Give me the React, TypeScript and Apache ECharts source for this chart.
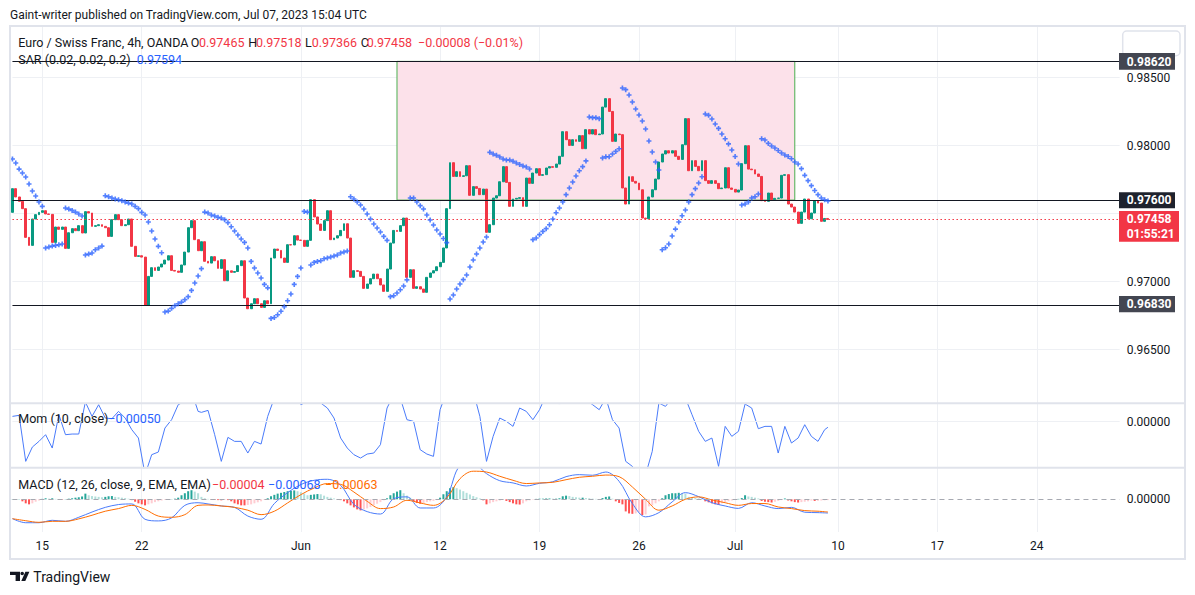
import React, { useEffect, useRef } from "react";
import * as echarts from "echarts";

// ---------- DATA ----------
const FIRST_OPEN = 0.9751;
// 4h closes, EUR/CHF, May 11 – Jul 7 2023 (each candle opens at the previous close)
const closes = [
  0.97684, 0.97623, 0.97591, 0.97537, 0.97326, 0.97267, 0.97461, 0.97493, 0.9751, 0.97522,
  0.97498, 0.97495, 0.97289, 0.97402, 0.97385, 0.97402, 0.97245, 0.9736, 0.9739, 0.97375,
  0.97412, 0.97358, 0.97515, 0.97505, 0.97407, 0.97412, 0.97419, 0.97407, 0.97397, 0.97333,
  0.97456, 0.97493, 0.97456, 0.97412, 0.97419, 0.97461, 0.9726, 0.97186, 0.97191, 0.97181,
  0.96826, 0.97039, 0.97103, 0.97083, 0.97108, 0.9713, 0.97159, 0.97191, 0.97083, 0.97078,
  0.97069, 0.97123, 0.97218, 0.97397, 0.97449, 0.97309, 0.97228, 0.97294, 0.9715, 0.97137,
  0.97184, 0.97154, 0.97098, 0.97162, 0.97007, 0.9708, 0.97069, 0.97075, 0.97118, 0.97154,
  0.9688, 0.96801, 0.96838, 0.96875, 0.96838, 0.96811, 0.9686, 0.96838, 0.97174, 0.9724,
  0.9723, 0.97174, 0.97142, 0.97272, 0.9727, 0.97338, 0.97306, 0.97304, 0.9726, 0.97304,
  0.97603, 0.97476, 0.97424, 0.97377, 0.97449, 0.97522, 0.97309, 0.97321, 0.97338, 0.97377,
  0.97426, 0.97321, 0.97032, 0.97081, 0.97076, 0.97039, 0.96951, 0.96983, 0.97022, 0.97056,
  0.97022, 0.96976, 0.96929, 0.97093, 0.97284, 0.97377, 0.9737, 0.97412, 0.97468, 0.97032,
  0.97088, 0.96951, 0.96963, 0.96946, 0.96922, 0.97032, 0.97064, 0.97081, 0.9711, 0.97142,
  0.97248, 0.97537, 0.97875, 0.97774, 0.97809, 0.97774, 0.97779, 0.97853, 0.97635, 0.97699,
  0.97686, 0.9764, 0.97681, 0.97363, 0.97419, 0.97615, 0.97632, 0.97735, 0.97846, 0.9773,
  0.97554, 0.97608, 0.97613, 0.97618, 0.97554, 0.97762, 0.97723, 0.97799, 0.97831, 0.97782,
  0.97787, 0.97836, 0.97846, 0.97841, 0.97865, 0.97922, 0.98103, 0.98044, 0.98002, 0.98044,
  0.98032, 0.98074, 0.97978, 0.98118, 0.98086, 0.98118, 0.98081, 0.98086, 0.98284, 0.98346,
  0.98252, 0.98032, 0.98086, 0.98081, 0.97689, 0.97571, 0.97772, 0.97738, 0.97725, 0.97676,
  0.97468, 0.97463, 0.97623, 0.97676, 0.97755, 0.9788, 0.97939, 0.97963, 0.97946, 0.97963,
  0.97922, 0.97899, 0.98007, 0.98199, 0.97816, 0.9789, 0.97848, 0.97816, 0.9789, 0.97743,
  0.97723, 0.97743, 0.97723, 0.97684, 0.97689, 0.97838, 0.97689, 0.97679, 0.97659, 0.97674,
  0.97868, 0.98, 0.97828, 0.97823, 0.97792, 0.97774, 0.97596, 0.97591, 0.97652, 0.97603,
  0.97613, 0.97615, 0.97782, 0.97787, 0.97571, 0.97549, 0.97512, 0.97429, 0.97512, 0.97608,
  0.97463, 0.97505, 0.97596, 0.97578, 0.97444, 0.97465, 0.97458,
];

// Parabolic SAR (0.02, 0.02, 0.2), one dot per candle
const sar = [
  0.97902, 0.97873, 0.97828, 0.97799, 0.9777, 0.97718, 0.97667, 0.9763, 0.97586, 0.97554,
  0.97248, 0.97255, 0.97262, 0.97267, 0.97272, 0.97277,
  0.97542, 0.97534, 0.97524, 0.97512, 0.97498, 0.97483,
  0.97196, 0.97203, 0.97211, 0.97235, 0.97248, 0.97262,
  0.97632, 0.97625, 0.97615, 0.97608, 0.97603, 0.97596, 0.97586, 0.97578, 0.97571, 0.97554,
  0.97537, 0.9751, 0.9749, 0.97439, 0.97373, 0.97314, 0.9726, 0.97213,
  0.96777, 0.96784, 0.96804, 0.96824, 0.96838, 0.9685, 0.96868, 0.9689, 0.96936, 0.9699, 0.97042, 0.97096,
  0.97512, 0.97505, 0.9749, 0.97483, 0.97473, 0.97468, 0.97456, 0.97434, 0.97404, 0.97373,
  0.97343, 0.97314, 0.97289, 0.97248, 0.97149, 0.97101, 0.97064, 0.97027, 0.9698, 0.96955,
  0.9673, 0.96737, 0.96757, 0.96783, 0.96816, 0.9686, 0.9691, 0.9698, 0.97039, 0.97101,
  0.97517, 0.97512,
  0.97123, 0.97142, 0.97149, 0.97154, 0.97169, 0.97174, 0.97182, 0.97189, 0.97196, 0.97211, 0.97218, 0.97226,
  0.97625, 0.97608, 0.97586, 0.97564, 0.97535, 0.97498, 0.97461, 0.97424, 0.97395, 0.97365, 0.97333, 0.97304,
  0.9689, 0.96897, 0.96917, 0.96941, 0.96968, 0.97013,
  0.97615, 0.97615, 0.97586, 0.97559, 0.97535, 0.9749, 0.97454, 0.97417, 0.9738, 0.97351, 0.97318, 0.97287,
  0.96873, 0.96902, 0.96946, 0.96983, 0.97015, 0.97049, 0.97108, 0.9716, 0.97204, 0.97248, 0.97292, 0.97329,
  0.97951, 0.97939, 0.97929, 0.97917, 0.97902, 0.97895, 0.97895, 0.97885, 0.97873, 0.97862, 0.97851, 0.97843, 0.97829,
  0.97309, 0.97321,
  0.97346, 0.9737, 0.9739, 0.97419, 0.97461, 0.97507, 0.97542, 0.97586, 0.9764, 0.97689, 0.97733, 0.97777, 0.97816, 0.97846, 0.97888,
  0.98211, 0.98206, 0.98206, 0.98199,
  0.9791, 0.97919, 0.97919, 0.97939, 0.97958, 0.97978,
  0.98424, 0.98412, 0.98373, 0.98321, 0.9827, 0.98226, 0.98182, 0.98123, 0.98035, 0.97954, 0.9788, 0.97821,
  0.97235, 0.9725, 0.97277, 0.97336, 0.97387, 0.97439, 0.97485, 0.97527, 0.97586, 0.9764, 0.97684, 0.97726, 0.97772,
  0.98233, 0.98223, 0.98196, 0.9816, 0.98127, 0.98086, 0.98051, 0.98013, 0.97968, 0.97921, 0.97865,
  0.97564, 0.97571, 0.97586, 0.97615, 0.97625, 0.97645,
  0.98051, 0.98042, 0.98017, 0.97998, 0.97983, 0.97965, 0.97946, 0.97932, 0.97921, 0.97904, 0.9788,
  0.97865, 0.97831, 0.97782, 0.97743, 0.97706, 0.97671, 0.9764, 0.97615, 0.97603, 0.97594,
];

// Momentum (10, close), read every other candle: candle index and value
const momIdx = [
  0, 2, 4, 6, 8, 10, 12, 14, 16, 18, 20, 22, 24, 26, 28, 30, 32, 34, 36, 38, 40, 42, 44, 46, 48, 50, 52, 54, 56,
  57, 59, 61, 63, 65, 67, 69, 71, 73, 75, 77, 79, 81, 83, 85, 87, 89, 91, 93, 95, 97, 99, 101, 103, 105, 107,
  109, 111, 113, 115, 117, 119, 121, 123, 125, 127, 129, 131, 133, 135, 137, 139, 141, 143, 145, 147, 149, 151,
  153, 155, 157, 159, 161, 163, 165, 167, 169, 171, 173, 175, 177, 179, 181, 183, 185, 187, 189, 191, 193, 195,
  197, 199, 201, 203, 205, 207, 209, 211, 213, 215, 217, 219, 221, 223, 225, 227, 229, 231, 233, 235, 237, 239,
  241, 243, 245, 246,
];
const momVal = [
  0.00048, 0.00057, -0.00357, -0.00228, -0.00177, -0.00117, -0.00237, 0.00063, -0.00117, -0.00111,
  -0.00111, 0.00177, 0.00048, 0.00153, 0.00033, 0.00027, 0.00093, 0.00033, -0.00072, -0.00147,
  -0.00477, -0.00297, -0.00273, -0.00057, 0.00018, 0.00153, 0.00183, 0.00273, 0.00093,
  0.00084, 0.00102, -0.00117, -0.00357, -0.00141, -0.00177, -0.00177, -0.00282, -0.00177, -0.00201,
  0.00048, 0.00213, 0.00333, 0.00363, 0.00303, 0.00153, 0.00183, 0.00213, 0.00168, 0.00123,
  0.00033, -0.00147, -0.00237, -0.00297, -0.00327, -0.00291, -0.00282, -0.00207, 0.00123, 0.00243,
  0.00213, 0.00018, 0.00003, -0.00252, -0.00291, -0.00312, 0.00108, 0.00273, 0.00363, 0.00363,
  0.00333, 0.00273, 0.00048, -0.00357, -0.00132, 0.00033, 0.00003, -0.00042, 0.00123, 0.00093,
  0.00018, 0.00108, 0.00243, 0.00228, 0.00159, 0.00228, 0.00243, 0.00213, 0.00198, 0.00153,
  0.00108, 0.00213, 0.00018, -0.00057, -0.00357, -0.00402, -0.00477, -0.00477, -0.00267, 0.00168,
  0.00138, 0.00213, 0.00228, 0.00213, 0.00063, -0.00087, -0.00177, -0.00147, -0.00402, -0.00042,
  -0.00132, -0.00087, 0.00159, 0.00123, -0.00063, -0.00042, -0.00042, -0.00282, -0.00042, -0.00192,
  -0.00147, -0.00027, -0.00132, -0.00177, -0.00072,
  -0.0005,
];

// MACD (12, 26, 9), lines read every fourth candle
const macdIdx = [
  0, 4, 8, 12, 16, 20, 24, 28, 32, 36, 40, 44, 48, 52, 56,
  59, 63, 67, 71, 75, 79, 83, 87, 91, 95, 99, 103, 107, 111, 115, 119, 123, 127, 131, 135, 139,
  143, 147, 151, 155, 159, 163, 167, 171, 175, 179, 183, 187, 191, 195, 199, 203, 207, 211, 215,
  219, 223, 227, 231, 235, 239, 243, 246,
];
const macdVal = [
  -0.00096, -0.00116, -0.00116, -0.00104, -0.00109, -0.00089, -0.00063, -0.0004, -0.00026, -0.00023,
  -0.00099, -0.00107, -0.00092, -0.0003, -0.00017,
  -0.00023, -0.00033, -0.0004, -0.00083, -0.00099, -0.00021, 0.00033, 0.00073, 0.00094, 0.00099,
  0.00069, -0.00025, -0.00061, -0.00073, 0.00003, 0.00012, -0.00043, -0.00043, 0.00012, 0.00165,
  0.00177, 0.00127, 0.00092, 0.00081, 0.00066, 0.00079, 0.00087, 0.00112, 0.00122, 0.00119,
  0.00135, 0.00089, -0.00021, -0.00087, -0.00066, -0.00013, 0.00033, 0.00013, -0.00017, -0.00033,
  -0.00045, -0.00017, -0.00033, -0.00046, -0.0004, -0.00064, -0.00066,
  -0.00068,
];
const signalVal = [
  -0.00096, -0.00106, -0.00114, -0.00109, -0.00109, -0.00097, -0.00079, -0.00059, -0.00046, -0.0003,
  -0.0005, -0.00083, -0.00089, -0.00076, -0.0003,
  -0.00028, -0.00033, -0.0004, -0.00054, -0.00076, -0.00059, -0.00018, 0.00023, 0.00056, 0.00078,
  0.00074, 0.00036, -0.0001, -0.00046, -0.00038, -0.00005, -0.00018, -0.0003, 0.00007, 0.00102,
  0.00139, 0.00135, 0.00114, 0.00094, 0.00078, 0.00081, 0.00084, 0.00097, 0.00109, 0.00114,
  0.0012, 0.00112, 0.00061, 0.0, -0.00054, -0.00033, 0.0, 0.00012, -0.00003, -0.00017,
  -0.0003, -0.00021, -0.00021, -0.00038, -0.00046, -0.00056, -0.00059,
  -0.00063,
];
// MACD histogram per candle, in units of 0.00001
const HIST_UNIT = 0.00001;
const histE5 = [
  1, 1, 1, -10, -20, -25, -20, -12, -6, 2, 5, 3, 5, 2, 1, -2, 1, 3, 5, 8,
  10, 14, 28, 20, 16, 14, 12, 10, 12, 15, 16, 12, 10, 8, 6, 3, -4, -12, -20, -25,
  -30, -25, -20, -14, -10, -6, -3, 0, 1, 3, 8, 20, 30, 40, 45, 38, 30,
  12, 5, 2, -2, -3, -4, -5, -3, -4, -10, -20, -25, -30, -30, -28, -25, -20, -15, -10, -3,
  5, 15, 22, 28, 32, 36, 40, 42, 44, 40, 35, 28, 20, 22, 24, 26, 25, 18, 12, 8,
  4, 0, -4, -10, -20, -30, -40, -50, -55, -50, -45, -38, -30, -22, -14, -5, 5, 20, 30, 38,
  45, 30, 18, 8, -10, -18, -22, -18, -14, -10, -8, -4, 8, 25, 40, 55, 60, 55, 48, 40,
  32, 24, 16, 10, 4, -5, -25, -20, -14, -10, -6, -3, -8, -14, -20, -25, -26, -20, -10, -5,
  -2, 2, 3, 3, 4, 4, 3, 3, 5, 15, 18, 16, 12, 10, 8, 8, 6, 5, 3, 2,
  1, 6, 12, 14, 3, -10, -18, -25, -60, -70, -72, -70, -65, -78, -75, -35, -30, -20, -10, 5,
  20, 26, 30, 30, 32, 30, 28, 12, 8, 6, 4, 2, -10, -15, -20, -25, -28, -20, -14, -10,
  -6, -3, 2, 6, 20, 14, 12, 8, 4, -8, -12, -14, -16, -12, -8, -4, 4, -6, -10, -14,
  -16, -14, -12, -10, -6, -8, -7, -6, -5, -4,
];

const SLOT_COUNT = 335; // candles plus empty future slots up to the price scale
const timeLabels: Record<number, string> = {
  9: "15", 39: "22", 87: "Jun", 129: "12", 159: "19", 189: "26", 218: "Jul", 249: "10", 279: "17", 309: "24",
};
const levelLines = [0.9862, 0.976, 0.9683];
const LAST_PRICE = 0.97458;
const zoneBox = { fromIdx: 116, toIdx: 236, top: 0.9862, bottom: 0.976 };

// ---------- LAYOUT / STYLE ----------
const GRID_LEFT = 12.46;
const GRID_WIDTH = 1107.2;
const FONT = "Roboto";
const TEXT = "#131722";
const UP = "#089981";
const DOWN = "#f23645";
const BLUE = "#2962ff";
const ORANGE = "#ff6d00";
const GRIDLINE = "#eef0f4";
const PLUS = "path://M2.7,0H5.3V2.7H8V5.3H5.3V8H2.7V5.3H0V2.7H2.7Z";
const LOGO_PATH =
  "M0 0H10V3.3H0Z M5.6 0H10V9.3H5.6Z M14 1.8A1.8 1.8 0 1 1 10.4 1.8A1.8 1.8 0 1 1 14 1.8Z M15.4 0H19.4L15.3 9.3H11.3Z";

function txt(text: string, x: number, y: number, fill: string, size = 12, weight = "normal", align = "left") {
  return {
    type: "text",
    z: 120,
    silent: true,
    style: { text, x, y, fill, font: `${weight} ${size}px ${FONT}`, textAlign: align, textVerticalAlign: "middle" },
  };
}
function box(x: number, y: number, w: number, h: number, fill: string) {
  return { type: "rect", z: 110, silent: true, shape: { x, y, width: w, height: h }, style: { fill } };
}

function buildOption() {
  const categories = Array.from({ length: SLOT_COUNT }, (_, i) => timeLabels[i] ?? "");
  const candleData = closes.map((c, i) => {
    const o = i === 0 ? FIRST_OPEN : closes[i - 1];
    return [o, c, Math.min(o, c), Math.max(o, c)];
  });
  const histData = histE5.map((v, i) => {
    const prev = i === 0 ? v : histE5[i - 1];
    let color;
    if (v >= 0) color = v >= prev ? "#26a69a" : "#b2dfdb";
    else color = v <= prev ? "#ff5252" : "#ffcdd2";
    return { value: v * HIST_UNIT, itemStyle: { color } };
  });
  const isLabel = (_i: number, v: string) => v !== "";
  const near = (a: number, b: number) => Math.abs(a - b) < 1e-9;

  const xAxes = [0, 1, 2, 3].map((g) => ({
    type: "category",
    gridIndex: g,
    data: categories,
    boundaryGap: false,
    axisLine: { show: false },
    axisTick: { show: false },
    axisPointer: { show: false },
    axisLabel:
      g === 0
        ? { show: true, interval: isLabel, color: TEXT, fontSize: 12, fontFamily: FONT, margin: 8 }
        : { show: false },
    splitLine: g === 0 ? { show: true, interval: isLabel, lineStyle: { color: GRIDLINE, width: 1 } } : { show: false },
  }));

  const zeroOnly = (v: number) => (Math.abs(v) < 1e-12 ? "0.00000" : "");
  const sideAxis = {
    position: "right",
    axisLine: { show: false },
    axisTick: { show: false },
  };
  const hLine = (v: number, lineStyle: any) => ({ yAxis: v, lineStyle });

  const graphic = [
    txt("Gaint-writer published on TradingView.com, Jul 07, 2023 15:04 UTC", 10, 15, TEXT, 12),
    {
      type: "rect", z: 100, silent: true,
      shape: { x: 10, y: 26, width: 1175, height: 533 },
      style: { fill: "none", stroke: "#e0e3eb", lineWidth: 2 },
    },
    { type: "line", z: 100, silent: true, shape: { x1: 11, y1: 403.3, x2: 1184, y2: 403.3 }, style: { stroke: "#e0e3eb", lineWidth: 2 } },
    { type: "line", z: 100, silent: true, shape: { x1: 11, y1: 467.7, x2: 1184, y2: 467.7 }, style: { stroke: "#e0e3eb", lineWidth: 2 } },
    // legend rows
    txt("Euro / Swiss Franc, 4h, OANDA", 18.3, 42.7, TEXT, 12.5),
    txt("O", 190.7, 42.7, TEXT, 12.5), txt("0.97465", 199, 42.7, DOWN, 12.5),
    txt("H", 248.3, 42.7, TEXT, 12.5), txt("0.97518", 256, 42.7, DOWN, 12.5),
    txt("L", 305, 42.7, TEXT, 12.5), txt("0.97366", 311.7, 42.7, DOWN, 12.5),
    txt("C", 360.7, 42.7, TEXT, 12.5), txt("0.97458", 366.7, 42.7, DOWN, 12.5),
    txt("\u22120.00008 (\u22120.01%)", 418, 42.7, DOWN, 12.5),
    txt("SAR (0.02, 0.02, 0.2)", 18.3, 59.3, TEXT, 12.5), txt("0.97594", 136.7, 59.3, BLUE, 12.5),
    txt("Mom (10, close)", 18.3, 418.3, TEXT, 12.5), txt("\u22120.00050", 108.3, 418.3, BLUE, 12.5),
    txt("MACD (12, 26, close, 9, EMA, EMA)", 18.3, 484.3, TEXT, 12.5),
    txt("\u22120.00004", 212, 484.3, DOWN, 12.5),
    txt("\u22120.00068", 268, 484.3, BLUE, 12.5),
    txt("\u22120.00063", 325, 484.3, ORANGE, 12.5),
    // price scale badges
    {
      type: "rect", z: 105, silent: true,
      shape: { x: 1122.7, y: 31, width: 57.3, height: 24.7, r: 4 },
      style: { fill: "#ffffff", stroke: "#e0e3eb", lineWidth: 1.5 },
    },
    box(1119, 53, 56, 16.7, "#434651"), txt("0.98620", 1126.7, 61.5, "#ffffff", 12, "bold"),
    box(1119, 192.3, 56, 16, "#1e222d"), txt("0.97600", 1126.7, 200.4, "#ffffff", 12, "bold"),
    box(1119, 211, 60, 30.7, "#f23645"),
    txt("0.97458", 1126.7, 219.2, "#ffffff", 12, "bold"), txt("01:55:21", 1126.7, 234.3, "#ffffff", 12, "bold"),
    box(1119, 296, 56, 16.3, "#434651"), txt("0.96830", 1126.7, 304.3, "#ffffff", 12, "bold"),
    // footer logo
    { type: "tvlogo", z: 120, silent: true, x: 10, y: 571.7, style: { fill: TEXT } },
    txt("TradingView", 33.3, 576.5, TEXT, 14),
  ];

  return {
    animation: false,
    backgroundColor: "#ffffff",
    textStyle: { fontFamily: FONT },
    grid: [
      { left: GRID_LEFT, width: GRID_WIDTH, top: 26, height: 506 },
      { left: GRID_LEFT, width: GRID_WIDTH, top: 9.7, height: 408 },
      { left: GRID_LEFT, width: GRID_WIDTH, top: 404, height: 63.7 },
      { left: GRID_LEFT, width: GRID_WIDTH, top: 467.7, height: 64.3 },
    ],
    xAxis: xAxes,
    yAxis: [
      { type: "value", gridIndex: 0, show: false, min: 0, max: 1 },
      {
        type: "value", gridIndex: 1, ...sideAxis, min: 0.96, max: 0.99, interval: 0.005,
        axisLabel: {
          color: TEXT, fontSize: 12, fontFamily: FONT, margin: 7,
          // 0.975 sits under the price badges and 0.96 / 0.99 fall outside the pane
          formatter: (v: number) => (near(v, 0.96) || near(v, 0.99) || near(v, 0.975) ? "" : v.toFixed(5)),
        },
        splitLine: {
          show: true,
          lineStyle: { color: ["rgba(0,0,0,0)", GRIDLINE, GRIDLINE, GRIDLINE, GRIDLINE, GRIDLINE, "rgba(0,0,0,0)"], width: 1 },
        },
      },
      {
        type: "value", gridIndex: 2, ...sideAxis, min: -0.00414, max: 0.001593,
        axisLabel: { color: TEXT, fontSize: 12, fontFamily: FONT, margin: 7, formatter: zeroOnly, customValues: [0] },
        splitLine: { show: false },
      },
      {
        type: "value", gridIndex: 3, ...sideAxis, min: -0.001619, max: 0.001564,
        axisLabel: { color: TEXT, fontSize: 12, fontFamily: FONT, margin: 7, formatter: zeroOnly, customValues: [0] },
        splitLine: { show: false },
      },
    ],
    series: [
      { type: "line", xAxisIndex: 0, yAxisIndex: 0, data: [], silent: true },
      {
        name: "zone", type: "line", xAxisIndex: 1, yAxisIndex: 1, data: [], z: 1, silent: true,
        markArea: {
          silent: true,
          itemStyle: { color: "#fce1ea", borderColor: "#4caf50", borderWidth: 1 },
          data: [[{ xAxis: zoneBox.fromIdx, yAxis: zoneBox.top }, { xAxis: zoneBox.toIdx, yAxis: zoneBox.bottom }]],
        },
      },
      {
        name: "EURCHF", type: "candlestick", xAxisIndex: 1, yAxisIndex: 1, data: candleData, z: 3,
        barWidth: 2.4, clip: false, silent: true,
        itemStyle: { color: UP, color0: DOWN, borderColor: UP, borderColor0: DOWN, borderWidth: 1 },
      },
      {
        name: "levels", type: "line", xAxisIndex: 1, yAxisIndex: 1, data: [], z: 4, silent: true,
        markLine: {
          silent: true, symbol: ["none", "none"], label: { show: false }, precision: 6,
          data: [
            ...levelLines.map((v) => hLine(v, { color: TEXT, width: 1, type: "solid" })),
            hLine(LAST_PRICE, { color: DOWN, width: 1, type: [1.5, 2.5] }),
          ],
        },
      },
      {
        name: "SAR", type: "scatter", xAxisIndex: 1, yAxisIndex: 1, data: sar, z: 5, silent: true,
        symbol: PLUS, symbolSize: 5, itemStyle: { color: BLUE },
      },
      {
        name: "Mom", type: "line", xAxisIndex: 2, yAxisIndex: 2, silent: true,
        data: momIdx.map((x, k) => [x, momVal[k]]),
        showSymbol: false, lineStyle: { color: "#4a7bfa", width: 1 }, z: 3,
        markLine: {
          silent: true, symbol: ["none", "none"], label: { show: false }, precision: 6,
          data: [hLine(0, { color: GRIDLINE, width: 1, type: "solid" })],
        },
      },
      {
        name: "Histogram", type: "bar", xAxisIndex: 3, yAxisIndex: 3, data: histData, barWidth: 2, silent: true, z: 2,
        markLine: {
          silent: true, symbol: ["none", "none"], label: { show: false }, precision: 6,
          data: [hLine(0, { color: "#a6a9b1", width: 1, type: [5, 4] })],
        },
      },
      {
        name: "MACD", type: "line", xAxisIndex: 3, yAxisIndex: 3, silent: true, smooth: 0.35,
        data: macdIdx.map((x, k) => [x, macdVal[k]]),
        showSymbol: false, lineStyle: { color: "#4a7bfa", width: 1 }, z: 3,
      },
      {
        name: "Signal", type: "line", xAxisIndex: 3, yAxisIndex: 3, silent: true, smooth: 0.35,
        data: macdIdx.map((x, k) => [x, signalVal[k]]),
        showSymbol: false, lineStyle: { color: ORANGE, width: 1 }, z: 3,
      },
    ],
    graphic,
  };
}

let logoRegistered = false;

export default function App() {
  const ref = useRef<HTMLDivElement>(null);
  useEffect(() => {
    if (!ref.current) return;
    if (!logoRegistered) {
      echarts.graphic.registerShape("tvlogo", echarts.graphic.extendPath(LOGO_PATH, {}));
      logoRegistered = true;
    }
    const chart = echarts.init(ref.current, undefined, { renderer: "svg" });
    chart.setOption(buildOption() as any);
    return () => chart.dispose();
  }, []);
  return (
    <div
      ref={ref}
      style={{ position: "fixed", left: 0, top: 0, width: 1195, height: 595, background: "#ffffff" }}
    />
  );
}
